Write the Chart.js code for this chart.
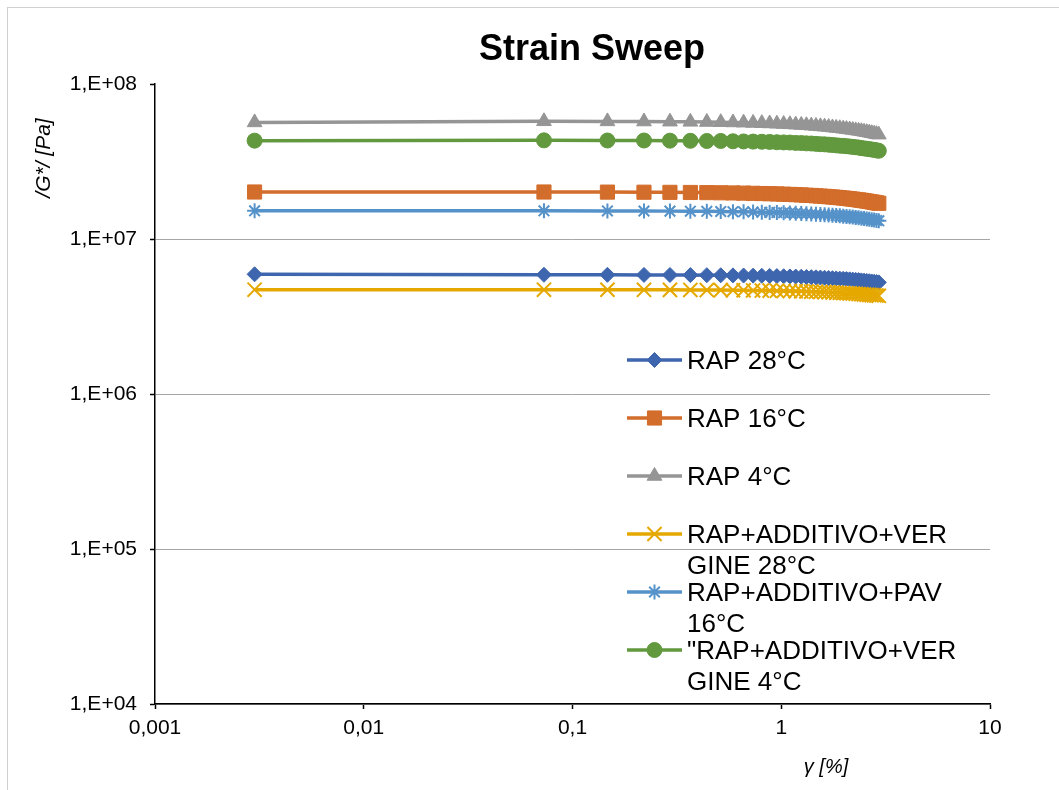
<!DOCTYPE html>
<html><head><meta charset="utf-8">
<script src="https://cdn.jsdelivr.net/npm/chart.js@4/dist/chart.umd.min.js"></script>
<style>html,body{margin:0;padding:0;background:#fff;} canvas{display:block;}</style>
</head><body>
<canvas id="c" width="1059" height="790"></canvas>
<script>
const FONT = "'Liberation Sans', Arial, sans-serif";
const chartTitle = 'Strain Sweep';
const xAxisTitle = 'γ [%]';
const yAxisTitle = '/G*/ [Pa]';
const xTickValues = [0.001, 0.01, 0.1, 1, 10];
const xTickLabels = ['0,001', '0,01', '0,1', '1', '10'];
const yTickValues = [1e4, 1e5, 1e6, 1e7, 1e8];
const yTickLabels = ['1,E+04', '1,E+05', '1,E+06', '1,E+07', '1,E+08'];
const seriesNames = [
  ['RAP 28°C'],
  ['RAP 16°C'],
  ['RAP 4°C'],
  ['RAP+ADDITIVO+VER', 'GINE 28°C'],
  ['RAP+ADDITIVO+PAV', '16°C'],
  ['"RAP+ADDITIVO+VER', 'GINE 4°C']
];
// strain γ [%]
const strain = [0.003, 0.073, 0.147, 0.22, 0.293, 0.367, 0.44, 0.513, 0.587, 0.66, 0.733, 0.807, 0.88, 0.953, 1.027, 1.1, 1.173, 1.247, 1.32, 1.393, 1.467, 1.54, 1.613, 1.687, 1.76, 1.833, 1.907, 1.98, 2.053, 2.127, 2.2, 2.273, 2.347, 2.42, 2.493, 2.567, 2.64, 2.713, 2.787, 2.86, 2.933];
// |G*| [Pa]
const rap28 = [5.92e6, 5.878e6, 5.873e6, 5.867e6, 5.860e6, 5.852e6, 5.843e6, 5.834e6, 5.824e6, 5.813e6, 5.801e6, 5.789e6, 5.776e6, 5.763e6, 5.750e6, 5.735e6, 5.721e6, 5.705e6, 5.690e6, 5.674e6, 5.657e6, 5.640e6, 5.623e6, 5.605e6, 5.587e6, 5.569e6, 5.550e6, 5.531e6, 5.511e6, 5.491e6, 5.471e6, 5.450e6, 5.429e6, 5.408e6, 5.386e6, 5.364e6, 5.342e6, 5.320e6, 5.297e6, 5.273e6, 5.250e6];
const rap16 = [2.01e7, 2.01e7, 2.007e7, 2.004e7, 2.000e7, 1.996e7, 1.992e7, 1.987e7, 1.982e7, 1.977e7, 1.971e7, 1.965e7, 1.959e7, 1.953e7, 1.946e7, 1.939e7, 1.932e7, 1.924e7, 1.916e7, 1.909e7, 1.900e7, 1.892e7, 1.884e7, 1.875e7, 1.866e7, 1.857e7, 1.848e7, 1.838e7, 1.828e7, 1.819e7, 1.809e7, 1.798e7, 1.788e7, 1.778e7, 1.767e7, 1.756e7, 1.745e7, 1.734e7, 1.723e7, 1.712e7, 1.700e7];
const rap4 = [5.65e7, 5.745e7, 5.737e7, 5.726e7, 5.714e7, 5.699e7, 5.684e7, 5.667e7, 5.648e7, 5.629e7, 5.608e7, 5.587e7, 5.564e7, 5.541e7, 5.517e7, 5.492e7, 5.467e7, 5.441e7, 5.414e7, 5.387e7, 5.358e7, 5.330e7, 5.301e7, 5.271e7, 5.241e7, 5.210e7, 5.180e7, 5.148e7, 5.116e7, 5.084e7, 5.052e7, 5.019e7, 4.985e7, 4.952e7, 4.918e7, 4.884e7, 4.850e7, 4.815e7, 4.780e7, 4.745e7, 4.710e7];
const verg28 = [4.710e6, 4.708e6, 4.705e6, 4.702e6, 4.697e6, 4.692e6, 4.686e6, 4.680e6, 4.673e6, 4.666e6, 4.659e6, 4.651e6, 4.643e6, 4.634e6, 4.625e6, 4.616e6, 4.606e6, 4.596e6, 4.586e6, 4.576e6, 4.565e6, 4.554e6, 4.543e6, 4.531e6, 4.519e6, 4.507e6, 4.495e6, 4.483e6, 4.470e6, 4.457e6, 4.444e6, 4.430e6, 4.417e6, 4.403e6, 4.389e6, 4.374e6, 4.360e6, 4.345e6, 4.330e6, 4.315e6, 4.300e6];
const pav16 = [1.520e7, 1.519e7, 1.518e7, 1.516e7, 1.513e7, 1.511e7, 1.508e7, 1.505e7, 1.501e7, 1.498e7, 1.494e7, 1.490e7, 1.485e7, 1.481e7, 1.477e7, 1.472e7, 1.467e7, 1.462e7, 1.457e7, 1.451e7, 1.446e7, 1.440e7, 1.434e7, 1.428e7, 1.422e7, 1.416e7, 1.410e7, 1.404e7, 1.397e7, 1.390e7, 1.384e7, 1.377e7, 1.370e7, 1.363e7, 1.355e7, 1.348e7, 1.341e7, 1.333e7, 1.326e7, 1.318e7, 1.310e7];
const verg4 = [4.31e7, 4.33e7, 4.32e7, 4.32e7, 4.31e7, 4.30e7, 4.29e7, 4.29e7, 4.27e7, 4.26e7, 4.25e7, 4.24e7, 4.23e7, 4.21e7, 4.20e7, 4.19e7, 4.17e7, 4.16e7, 4.14e7, 4.13e7, 4.11e7, 4.09e7, 4.08e7, 4.06e7, 4.04e7, 4.02e7, 4.00e7, 3.99e7, 3.97e7, 3.95e7, 3.93e7, 3.91e7, 3.89e7, 3.86e7, 3.84e7, 3.82e7, 3.80e7, 3.78e7, 3.76e7, 3.73e7, 3.71e7];

const seriesValues = [rap28, rap16, rap4, verg28, pav16, verg4];
const colors = ['#3E66AE', '#D36D2B', '#959595', '#E5A800', '#5592C9', '#62993E'];
const pointStyles = ['rectRot', 'rect', 'triangle', 'crossRot', 'star', 'circle'];
const pointRadii = [7.5, 10, 8.5, 10, 7.5, 7.5];
const pointBorders = [1, 1, 1, 2, 2, 1];

const datasets = seriesValues.map((vals, i) => ({
  label: seriesNames[i].join(''),
  data: strain.map((x, j) => ({ x: x, y: vals[j] })),
  borderColor: colors[i],
  backgroundColor: colors[i],
  borderWidth: 3.5,
  pointStyle: pointStyles[i],
  pointRadius: pointRadii[i],
  pointBackgroundColor: colors[i],
  pointBorderColor: colors[i],
  pointBorderWidth: pointBorders[i],
  tension: 0,
  order: 10 - i
}));

const decor = {
  id: 'decor',
  beforeDraw(chart) {
    const c = chart.ctx;
    c.save();
    c.fillStyle = '#fff';
    c.fillRect(0, 0, chart.width, chart.height);
    c.strokeStyle = '#D0D0D0';
    c.lineWidth = 1;
    c.strokeRect(7.5, 7.5, chart.width + 20, chart.height + 20);
    c.restore();
  },
  afterDraw(chart) {
    const c = chart.ctx;
    c.save();
    c.fillStyle = '#000';
    c.textAlign = 'center';
    c.textBaseline = 'alphabetic';
    c.font = `bold 36px ${FONT}`;
    c.fillText(chartTitle, 592, 60);

    c.save();
    c.translate(44, 158);
    c.rotate(-Math.PI / 2);
    c.font = `italic 21px ${FONT}`;
    c.textBaseline = 'middle';
    c.fillText(yAxisTitle, 0, 0);
    c.restore();

    c.font = `italic 20px ${FONT}`;
    c.fillText(xAxisTitle, 826, 773);

    // legend
    c.textAlign = 'left';
    c.font = `26px ${FONT}`;
    let y = 360;
    for (let i = 0; i < seriesNames.length; i++) {
      c.strokeStyle = colors[i];
      c.lineWidth = 3.5;
      c.beginPath();
      c.moveTo(627, y);
      c.lineTo(682, y);
      c.stroke();
      c.fillStyle = colors[i];
      c.lineWidth = pointBorders[i];
      Chart.helpers.drawPoint(c, { pointStyle: pointStyles[i], rotation: 0, radius: pointRadii[i], borderWidth: pointBorders[i] }, 654.5, y);
      c.fillStyle = '#000';
      seriesNames[i].forEach((line, k) => c.fillText(line, 687, y + 9.3 + k * 31));
      y += 58;
    }
    c.restore();
  }
};

new Chart(document.getElementById('c'), {
  type: 'line',
  data: { datasets: datasets },
  options: {
    responsive: false,
    animation: false,
    layout: { padding: { top: 84, right: 69, bottom: 0, left: 0 } },
    plugins: { legend: { display: false }, title: { display: false }, tooltip: { enabled: false } },
    scales: {
      x: {
        type: 'logarithmic', position: 'bottom', min: 0.001, max: 10,
        afterBuildTicks: s => { s.ticks = xTickValues.map(v => ({ value: v, major: true })); },
        afterFit: s => { s.height = 86; },
        ticks: { callback: (v, i) => xTickLabels[i], color: '#000', font: { family: FONT, size: 21 }, padding: 7, maxRotation: 0, autoSkip: false },
        grid: { drawOnChartArea: false, tickLength: 5, tickColor: '#000', tickWidth: 1.5 },
        border: { color: '#000', width: 1.5 }
      },
      y: {
        type: 'logarithmic', position: 'left', min: 1e4, max: 1e8,
        afterBuildTicks: s => { s.ticks = yTickValues.map(v => ({ value: v, major: true })); },
        afterFit: s => { s.width = 155; },
        ticks: { callback: (v, i) => yTickLabels[i], color: '#000', font: { family: FONT, size: 21 }, padding: 13, autoSkip: false },
        grid: { color: ctx => (ctx.tick && ctx.tick.value === 1e8) ? 'rgba(0,0,0,0)' : '#A6A6A6', lineWidth: 1, tickLength: 5, tickColor: '#000', tickWidth: 1.5 },
        border: { color: '#000', width: 1.5 }
      }
    }
  },
  plugins: [decor]
});
</script>
</body></html>
